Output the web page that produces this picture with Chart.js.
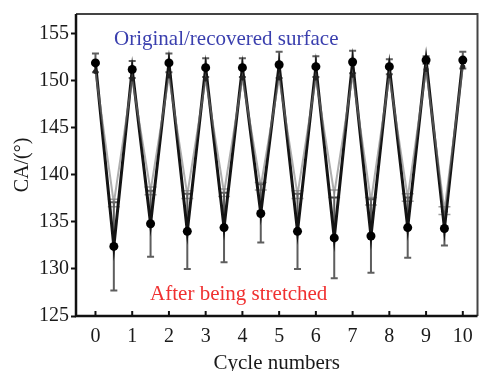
<!DOCTYPE html>
<html lang="en">
<head>
    <meta charset="UTF-8">
    <title>Contact angle cycles</title>
    <script src="https://cdn.jsdelivr.net/npm/chart.js"></script>
    <style>
        body { margin: 0; background: #fff; }
    </style>
</head>
<body>
    <canvas id="caChart" width="482" height="371"></canvas>

    <script>
        // values
        const cycles = [0, 1, 2, 3, 4, 5, 6, 7, 8, 9, 10];
        const originalCA = [151.9, 151.2, 151.9, 151.4, 151.4, 151.7, 151.5, 152.0, 151.5, 152.2, 152.2];
        const originalErr = [1.0, 0.9, 1.0, 1.0, 1.0, 1.4, 1.1, 1.2, 0.8, 0.4, 0.9];
        const stretchedCA = [132.4, 134.8, 134.0, 134.4, 135.9, 134.0, 133.3, 133.5, 134.4, 134.3];
        const stretchedErr = [4.7, 3.5, 4.0, 3.7, 3.1, 4.0, 4.3, 3.9, 3.2, 1.8];
        const greyOriginal = [151.0, 150.2, 150.5, 150.2, 150.3, 150.3, 150.3, 150.6, 150.5, 151.2, 151.5];
        const greyStretched = [137.0, 138.3, 137.9, 138.1, 138.8, 137.9, 138.0, 137.2, 137.6, 136.2];
        const greyErr = [0.4, 0.4, 0.4, 0.4, 0.4, 0.4, 0.4, 0.4, 0.4, 0.4];
        const yTicks = [125, 130, 135, 140, 145, 150, 155];

        // alternate original (integer cycle) and stretched (half cycle) points
        function zigzag(top, bottom, topErr, bottomErr) {
            const pts = [];
            cycles.forEach((c, i) => {
                pts.push({ x: c, y: top[i], e: topErr ? topErr[i] : 0 });
                if (i < bottom.length) {
                    pts.push({ x: c + 0.5, y: bottom[i], e: bottomErr ? bottomErr[i] : 0 });
                }
            });
            return pts;
        }

        const serif = "'Liberation Serif', 'DejaVu Serif', serif";

        const errorBars = {
            id: 'errorBars',
            beforeDatasetsDraw(chart) {
                const ctx = chart.ctx;
                const xs = chart.scales.x, ys = chart.scales.y;
                chart.data.datasets.forEach(ds => {
                    if (!ds.bars) return;
                    ctx.save();
                    ctx.strokeStyle = ds.barColor;
                    ctx.lineWidth = ds.barWidth;
                    ds.data.forEach(p => {
                        if (!p.e) return;
                        const x = xs.getPixelForValue(p.x);
                        const y1 = ys.getPixelForValue(p.y - p.e);
                        const y2 = ys.getPixelForValue(p.y + p.e);
                        const w = ds.capWidth / 2;
                        ctx.beginPath();
                        ctx.moveTo(x, y1); ctx.lineTo(x, y2);
                        ctx.moveTo(x - w, y1); ctx.lineTo(x + w, y1);
                        ctx.moveTo(x - w, y2); ctx.lineTo(x + w, y2);
                        ctx.stroke();
                    });
                    ctx.restore();
                });
            }
        };

        const frameAndText = {
            id: 'frameAndText',
            afterDraw(chart) {
                const ctx = chart.ctx;
                const a = chart.chartArea;
                const xs = chart.scales.x, ys = chart.scales.y;
                ctx.save();
                // grey box on top and right
                ctx.strokeStyle = '#444';
                ctx.lineWidth = 2;
                ctx.beginPath();
                ctx.moveTo(a.left, a.top);
                ctx.lineTo(a.right, a.top);
                ctx.lineTo(a.right, a.bottom);
                ctx.stroke();
                // black axes
                ctx.strokeStyle = '#111';
                ctx.lineWidth = 2.5;
                ctx.beginPath();
                ctx.moveTo(a.left, a.top);
                ctx.lineTo(a.left, a.bottom);
                ctx.lineTo(a.right, a.bottom);
                ctx.stroke();
                // inward ticks on the x axis
                ctx.lineWidth = 2;
                cycles.forEach(c => {
                    const x = xs.getPixelForValue(c);
                    ctx.beginPath();
                    ctx.moveTo(x, a.bottom);
                    ctx.lineTo(x, a.bottom - 5);
                    ctx.stroke();
                });
                // labels
                ctx.font = '21px ' + serif;
                ctx.textAlign = 'center';
                ctx.textBaseline = 'middle';
                ctx.fillStyle = '#3a3fae';
                ctx.fillText('Original/recovered surface', xs.getPixelForValue(3.56), ys.getPixelForValue(154.4));
                ctx.fillStyle = '#f03030';
                ctx.fillText('After being stretched', xs.getPixelForValue(3.9), ys.getPixelForValue(127.3));
                ctx.restore();
            }
        };

        const ctx = document.getElementById('caChart').getContext('2d');
        new Chart(ctx, {
            type: 'line',
            data: {
                datasets: [
                    {
                        label: 'grey',
                        data: zigzag(greyOriginal, greyStretched, null, greyErr),
                        borderColor: 'rgba(120,120,120,0.6)',
                        borderWidth: 2,
                        pointRadius: c => (c.raw && Number.isInteger(c.raw.x)) ? 2.5 : 0,
                        pointBackgroundColor: '#222',
                        pointBorderWidth: 0,
                        tension: 0,
                        bars: true,
                        barColor: 'rgba(120,120,120,0.7)',
                        barWidth: 1.5,
                        capWidth: 12
                    },
                    {
                        label: 'black',
                        data: zigzag(originalCA, stretchedCA, originalErr, stretchedErr),
                        borderColor: '#141414',
                        borderWidth: 3,
                        pointRadius: 4.5,
                        pointBackgroundColor: '#000',
                        pointBorderWidth: 0,
                        tension: 0,
                        bars: true,
                        barColor: 'rgba(40,40,40,0.75)',
                        barWidth: 2,
                        capWidth: 7
                    }
                ]
            },
            options: {
                responsive: false,
                animation: false,
                parsing: { xAxisKey: 'x', yAxisKey: 'y' },
                layout: { padding: { top: 14, right: 2, left: 0, bottom: 0 } },
                plugins: {
                    legend: { display: false },
                    tooltip: { enabled: false }
                },
                scales: {
                    x: {
                        type: 'linear',
                        min: -0.53,
                        max: 10.4,
                        afterBuildTicks: s => { s.ticks = cycles.map(v => ({ value: v })); },
                        afterFit: s => { s.height = 55; },
                        grid: { display: false, drawTicks: false },
                        border: { display: false },
                        ticks: {
                            padding: 9,
                            color: '#1a1a1a',
                            font: { family: serif, size: 20 },
                            maxRotation: 0
                        },
                        title: {
                            display: true,
                            text: 'Cycle numbers',
                            color: '#1a1a1a',
                            font: { family: serif, size: 21 },
                            padding: { top: 0, bottom: -5 }
                        }
                    },
                    y: {
                        min: 125,
                        max: 157.1,
                        afterBuildTicks: s => {
                            const t = [];
                            for (let v = 125; v <= 155; v += 2.5) t.push({ value: v });
                            s.ticks = t;
                        },
                        afterFit: s => { s.width = 76; },
                        grid: {
                            drawOnChartArea: false,
                            drawTicks: true,
                            tickLength: 5,
                            tickWidth: 2,
                            color: '#111'
                        },
                        border: { display: false },
                        ticks: {
                            padding: 2,
                            color: '#1a1a1a',
                            font: { family: serif, size: 20 },
                            callback: v => yTicks.includes(v) ? v : ''
                        },
                        title: {
                            display: true,
                            text: 'CA/(°)',
                            color: '#1a1a1a',
                            font: { family: serif, size: 20 },
                            padding: { top: 11, bottom: 0 }
                        }
                    }
                }
            },
            plugins: [errorBars, frameAndText]
        });
    </script>
</body>
</html>
